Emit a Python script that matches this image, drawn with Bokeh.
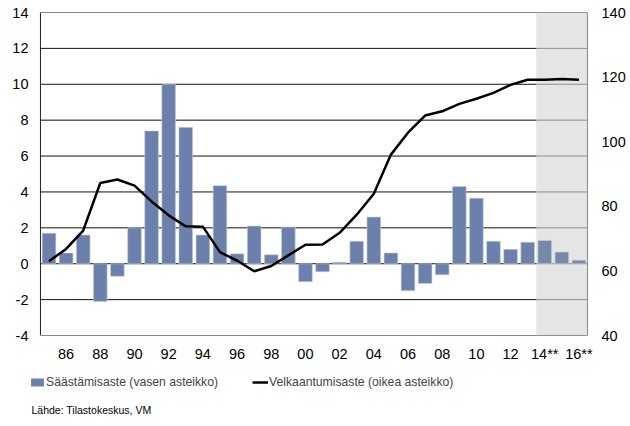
from bokeh.plotting import figure
from bokeh.layouts import column
from bokeh.models import (Range1d, LinearAxis, FixedTicker, BoxAnnotation, Legend,
                          LegendItem, Label, ColumnDataSource, Span)
from bokeh.embed import file_html
from bokeh.resources import INLINE

years = list(range(1985, 2017))
saving_rate = [1.7, 0.6, 1.6, -2.1, -0.7, 2.0, 7.4, 10.0, 7.6, 1.6,
               4.35, 0.55, 2.1, 0.5, 2.05, -1.0, -0.45, 0.08, 1.25, 2.6,
               0.6, -1.5, -1.1, -0.62, 4.3, 3.65, 1.25, 0.8, 1.2, 1.3,
               0.65, 0.2]
debt_ratio = [63.0, 66.8, 72.5, 87.2, 88.3, 86.4, 81.5, 77.2, 73.8, 73.7,
              65.8, 63.2, 59.9, 61.5, 64.8, 68.1, 68.2, 71.8, 77.4, 83.9,
              96.0, 102.8, 108.1, 109.4, 111.7, 113.3, 115.1, 117.6, 119.2, 119.2,
              119.4, 119.2]
tick_years = list(range(1986, 2017, 2))
tick_labels = ["86", "88", "90", "92", "94", "96", "98", "00", "02", "04",
               "06", "08", "10", "12", "14**", "16**"]
left_ticks = list(range(-4, 15, 2))
right_ticks = list(range(40, 141, 20))
forecast_start = 2014

FONT = "Liberation Sans"
BAR = "#6b80ab"
bar_colors = ["#7888a8" if y >= forecast_start else BAR for y in years]
src = ColumnDataSource(dict(x=years, s=saving_rate, d=debt_ratio, c=bar_colors))

# layout: frame starts 11px left of the plotting area so the legend below can sit there
X0, X1 = years[0] - 0.5, years[-1] + 0.5
AREA_PX = 549
LEFT_PAD_PX = 11
pad = LEFT_PAD_PX * (X1 - X0) / AREA_PX

p = figure(width=628, height=365, output_backend="svg", toolbar_location=None,
           x_range=Range1d(X0 - pad, X1),
           y_range=Range1d(left_ticks[0], left_ticks[-1]),
           min_border_left=29, min_border_right=39, min_border_top=12,
           min_border_bottom=30)
p.extra_y_ranges = {"right": Range1d(right_ticks[0], right_ticks[-1])}
p.outline_line_color = None
p.background_fill_color = "white"
p.border_fill_color = "white"
p.xgrid.grid_line_color = None
p.ygrid.grid_line_color = None

# horizontal grid lines over the plotting area only
n = len(left_ticks)
grid = p.segment(x0=[X0] * n, y0=left_ticks, x1=[X1] * n, y1=left_ticks,
                 line_color="#111111", line_width=1, level="underlay")

# forecast shading (drawn over grid, under bars)
shade = BoxAnnotation(left=forecast_start - 0.5, right=X1,
                      fill_color="#d4d6d4", fill_alpha=0.64, line_color=None,
                      level="underlay")
p.add_layout(shade)

# left axis line of the plotting area
p.add_layout(Span(location=X0, dimension="height", line_color="#222222", line_width=1))

bars = p.vbar(x="x", top="s", bottom=0, width=0.8, source=src,
              fill_color="c", line_color="#c8d0e0", line_width=0.6)
line = p.line(x="x", y="d", source=src, y_range_name="right",
              line_color="black", line_width=2.5)


def style_axis(ax, standoff):
    ax.major_tick_line_color = None
    ax.minor_tick_line_color = None
    ax.major_tick_out = 0
    ax.major_tick_in = 0
    ax.minor_tick_out = 0
    ax.minor_tick_in = 0
    ax.major_label_text_font = FONT
    ax.major_label_text_font_size = "14.5px"
    ax.major_label_text_color = "black"
    ax.major_label_standoff = standoff


xa = p.xaxis[0]
xa.ticker = FixedTicker(ticks=tick_years)
xa.major_label_overrides = {t: l for t, l in zip(tick_years, tick_labels)}
xa.axis_line_color = None
style_axis(xa, 10)

ya = p.yaxis[0]
ya.ticker = FixedTicker(ticks=left_ticks)
ya.major_label_overrides = {t: str(t) for t in left_ticks}
ya.axis_line_color = None
style_axis(ya, 1)

ra = LinearAxis(y_range_name="right", ticker=FixedTicker(ticks=right_ticks))
ra.axis_line_color = "#8a8a8a"
style_axis(ra, 14)
p.add_layout(ra, "right")

# legend / source panel; key renderers are hidden, the legend only shows their style
p2 = figure(width=628, height=55, output_backend="svg", toolbar_location=None,
            x_axis_location=None, y_axis_location=None,
            min_border=0, min_border_left=29, min_border_right=39,
            min_border_top=0, min_border_bottom=0)
p2.grid.visible = False
p2.outline_line_color = None
p2.border_fill_color = "white"
p2.background_fill_color = "white"

bar_key = p2.vbar(x="x", top="s", width=0.8, source=src, fill_color=BAR, line_color=None)
line_key = p2.line(x="x", y="d", source=src, line_color="black", line_width=2.5)
bar_key.visible = False
line_key.visible = False

legend = Legend(items=[LegendItem(label="Säästämisaste (vasen asteikko)", renderers=[bar_key]),
                       LegendItem(label="Velkaantumisaste (oikea asteikko)", renderers=[line_key])],
                orientation="horizontal", location=(0, 31),
                glyph_width=16, glyph_height=10, label_standoff=1, spacing=34,
                padding=0, margin=0, border_line_color=None,
                background_fill_alpha=0, inactive_fill_alpha=0,
                label_text_font=FONT,
                label_text_font_size="12.2px", label_height=12)
p2.add_layout(legend)

src_label = Label(x=2, y=5, x_units="screen", y_units="screen",
                  text="Lähde: Tilastokeskus, VM", text_font=FONT,
                  text_font_size="10.5px", text_color="black",
                  text_baseline="bottom")
p2.add_layout(src_label)

open("out.html", "w").write(file_html(column(p, p2), INLINE))
